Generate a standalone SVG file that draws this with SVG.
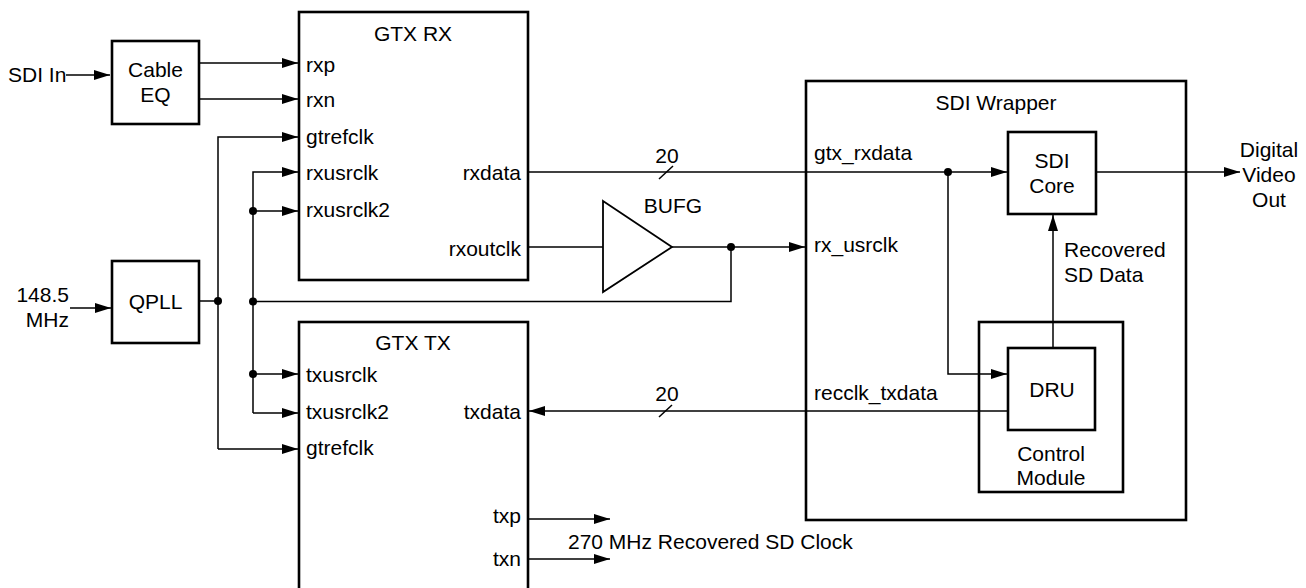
<svg xmlns="http://www.w3.org/2000/svg" width="1306" height="588" viewBox="0 0 1306 588">
<defs>
<style>
.box{fill:#fff;stroke:#000;stroke-width:2.6}
.w{fill:none;stroke:#000;stroke-width:1.5}
.a{fill:none;stroke:#000;stroke-width:1.5;marker-end:url(#ah)}
.t{font-family:"Liberation Sans",Arial,sans-serif;font-size:21px;fill:#000}
.m{text-anchor:middle}
.e{text-anchor:end}
.dot{fill:#000}
</style>
<marker id="ah" markerUnits="userSpaceOnUse" markerWidth="16" markerHeight="10" refX="16" refY="5" orient="auto">
<path d="M0,0 L16,5 L0,10 z" fill="#000"/>
</marker>
</defs>

<g id="node-sdi-in"><text class="t" x="8" y="82">SDI In</text></g>
<g id="node-cable-eq">
<rect class="box" x="112" y="41" width="87" height="83"/>
<text class="t m" x="155.5" y="77">Cable</text>
<text class="t m" x="155.5" y="102">EQ</text>
</g>
<g id="node-148">
<text class="t e" x="69" y="302">148.5</text>
<text class="t e" x="69" y="327">MHz</text>
</g>
<g id="node-qpll">
<rect class="box" x="112" y="261" width="87" height="82"/>
<text class="t m" x="155.5" y="309">QPLL</text>
</g>
<g id="node-gtx-rx">
<rect class="box" x="299" y="12" width="229" height="268"/>
<text class="t m" x="413" y="41">GTX RX</text>
<text class="t" x="306" y="72">rxp</text>
<text class="t" x="306" y="107">rxn</text>
<text class="t" x="306" y="144">gtrefclk</text>
<text class="t" x="306" y="180">rxusrclk</text>
<text class="t" x="306" y="217">rxusrclk2</text>
<text class="t e" x="521" y="180">rxdata</text>
<text class="t e" x="521" y="256">rxoutclk</text>
</g>
<g id="node-gtx-tx">
<rect class="box" x="299" y="322" width="229" height="290"/>
<text class="t m" x="413" y="350">GTX TX</text>
<text class="t" x="306" y="382">txusrclk</text>
<text class="t" x="306" y="419">txusrclk2</text>
<text class="t" x="306" y="455">gtrefclk</text>
<text class="t e" x="521" y="419">txdata</text>
<text class="t e" x="521" y="523">txp</text>
<text class="t e" x="521" y="566">txn</text>
</g>
<g id="node-bufg">
<path class="box" d="M603,201 L672,247 L603,292 Z" style="stroke-width:1.8"/>
<text class="t m" x="673" y="213">BUFG</text>
</g>
<g id="node-sdi-wrapper">
<rect class="box" x="806" y="81" width="380" height="439"/>
<text class="t m" x="996" y="110">SDI Wrapper</text>
<text class="t" x="814" y="160">gtx_rxdata</text>
<text class="t" x="814" y="252">rx_usrclk</text>
<text class="t" x="814" y="400">recclk_txdata</text>
</g>
<g id="node-sdi-core">
<rect class="box" x="1008" y="132" width="88" height="82"/>
<text class="t m" x="1052" y="168">SDI</text>
<text class="t m" x="1052" y="193">Core</text>
</g>
<g id="node-control-module">
<rect class="box" x="979" y="322" width="144" height="170"/>
<text class="t m" x="1051" y="461">Control</text>
<text class="t m" x="1051" y="485">Module</text>
</g>
<g id="node-dru">
<rect class="box" x="1008" y="348" width="87" height="82"/>
<text class="t m" x="1052" y="397">DRU</text>
</g>
<g id="node-digital-out">
<text class="t m" x="1269" y="157">Digital</text>
<text class="t m" x="1269" y="182">Video</text>
<text class="t m" x="1269" y="207">Out</text>
</g>
<g id="node-recovered-data">
<text class="t" x="1064" y="257">Recovered</text>
<text class="t" x="1064" y="282">SD Data</text>
</g>
<g id="node-270">
<text class="t" x="568" y="549">270 MHz Recovered SD Clock</text>
</g>
<g id="node-bus-labels">
<text class="t m" x="667" y="163">20</text>
<text class="t m" x="667" y="401">20</text>
</g>

<g id="connectors">
<path class="a" d="M66,75 H110"/>
<path class="a" d="M199,63 H298"/>
<path class="a" d="M199,99 H298"/>
<path class="a" d="M70,308 H111"/>
<path class="w" d="M199,301 H218"/>
<path class="a" d="M218,449 V137 H298"/>
<path class="a" d="M218,449 H298"/>
<path class="a" d="M253,413 V172 H298"/>
<path class="a" d="M253,211 H298"/>
<path class="a" d="M253,374 H298"/>
<path class="a" d="M253,413 H298"/>
<path class="w" d="M253,301.5 H731 V247"/>
<path class="w" d="M528,247 H603"/>
<path class="a" d="M672,247 H805"/>
<path class="a" d="M528,172 H1007"/>
<path class="w" d="M659,179 L673,166"/>
<path class="a" d="M948,172 V374 H1007"/>
<path class="a" d="M1008,411 H529"/>
<path class="w" d="M659,417 L672,405"/>
<path class="a" d="M1053,348 V215"/>
<path class="a" d="M1096,172 H1240"/>
<path class="a" d="M528,519 H610"/>
<path class="a" d="M528,559 H610"/>
<circle class="dot" cx="218" cy="301" r="4"/>
<circle class="dot" cx="253" cy="301.5" r="4"/>
<circle class="dot" cx="253" cy="211" r="4"/>
<circle class="dot" cx="253" cy="374" r="4"/>
<circle class="dot" cx="731" cy="247" r="4"/>
<circle class="dot" cx="948" cy="172" r="4"/>
</g>
</svg>
